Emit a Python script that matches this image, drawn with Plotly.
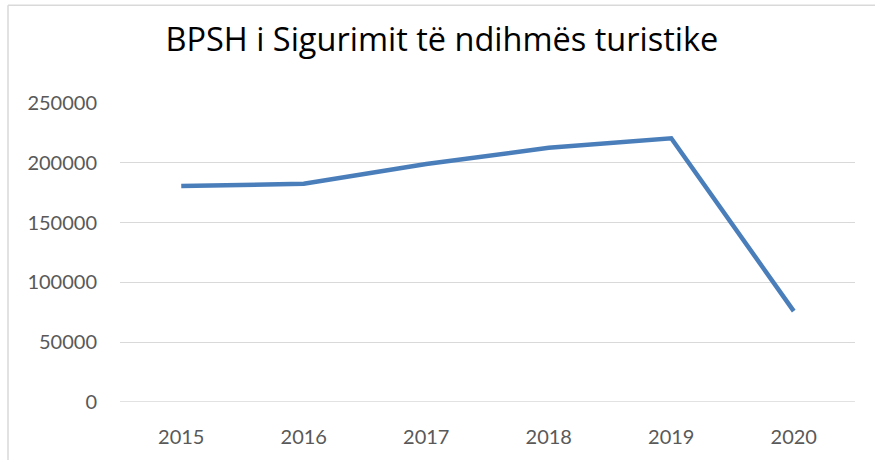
import plotly.graph_objects as go

years = ["2015", "2016", "2017", "2018", "2019", "2020"]
values = [180500, 182500, 199000, 212500, 220500, 76000]
y_ticks = [0, 50000, 100000, 150000, 200000, 250000]
title_text = "BPSH i Sigurimit të ndihmës turistike"

W, H = 875, 460
L, R, T, B = 120, 20, 103, 56
pw, ph = W - L - R, H - T - B

def px_x(p):
    return (p - L) / pw

def px_y(p):
    return (H - B - p) / ph

fig = go.Figure()
fig.add_trace(go.Scatter(
    x=years, y=values, mode="lines",
    line=dict(color="#4A7EBB", width=4.5),
    hoverinfo="skip", showlegend=False,
))

grid = "#D9D9D9"
fig.update_layout(
    width=W, height=H,
    margin=dict(l=L, r=R, t=T, b=B, pad=0),
    paper_bgcolor="white", plot_bgcolor="white",
    font=dict(family="Lato, 'Open Sans', sans-serif", color="#595959", size=20),
    title=dict(text=title_text, x=0.505, xref="container", xanchor="center",
               y=1 - 40 / H, yref="container", yanchor="middle",
               font=dict(size=32.5, color="#000000", family="'Open Sans', Lato, sans-serif")),
    xaxis=dict(type="category", range=[-0.5, 5.5], showgrid=False, zeroline=False,
               showline=False, ticks="", ticklabelstandoff=21, fixedrange=True),
    yaxis=dict(range=[0, 250000], tickvals=y_ticks, ticktext=[str(v) for v in y_ticks],
               showgrid=True, gridcolor=grid, gridwidth=1.3, zeroline=False,
               showline=False, ticks="", ticklabelstandoff=22, fixedrange=True),
    shapes=[
        dict(type="line", xref="paper", yref="paper",
             x0=px_x(8), x1=px_x(880), y0=px_y(4.5), y1=px_y(4.5),
             line=dict(color=grid, width=1.5)),
        dict(type="line", xref="paper", yref="paper",
             x0=px_x(8), x1=px_x(8), y0=px_y(4.5), y1=px_y(470),
             line=dict(color=grid, width=1.5)),
    ],
)
fig.add_hline(y=0, line=dict(color=grid, width=1.3), layer="below")

fig.write_html("out.html", config={"displayModeBar": False})

with open("out.html", "r", encoding="utf-8") as f:
    html = f.read()
html = html.replace("<head>", "<head><style>html,body{margin:0;padding:0;overflow:hidden;}</style>", 1)
with open("out.html", "w", encoding="utf-8") as f:
    f.write(html)
